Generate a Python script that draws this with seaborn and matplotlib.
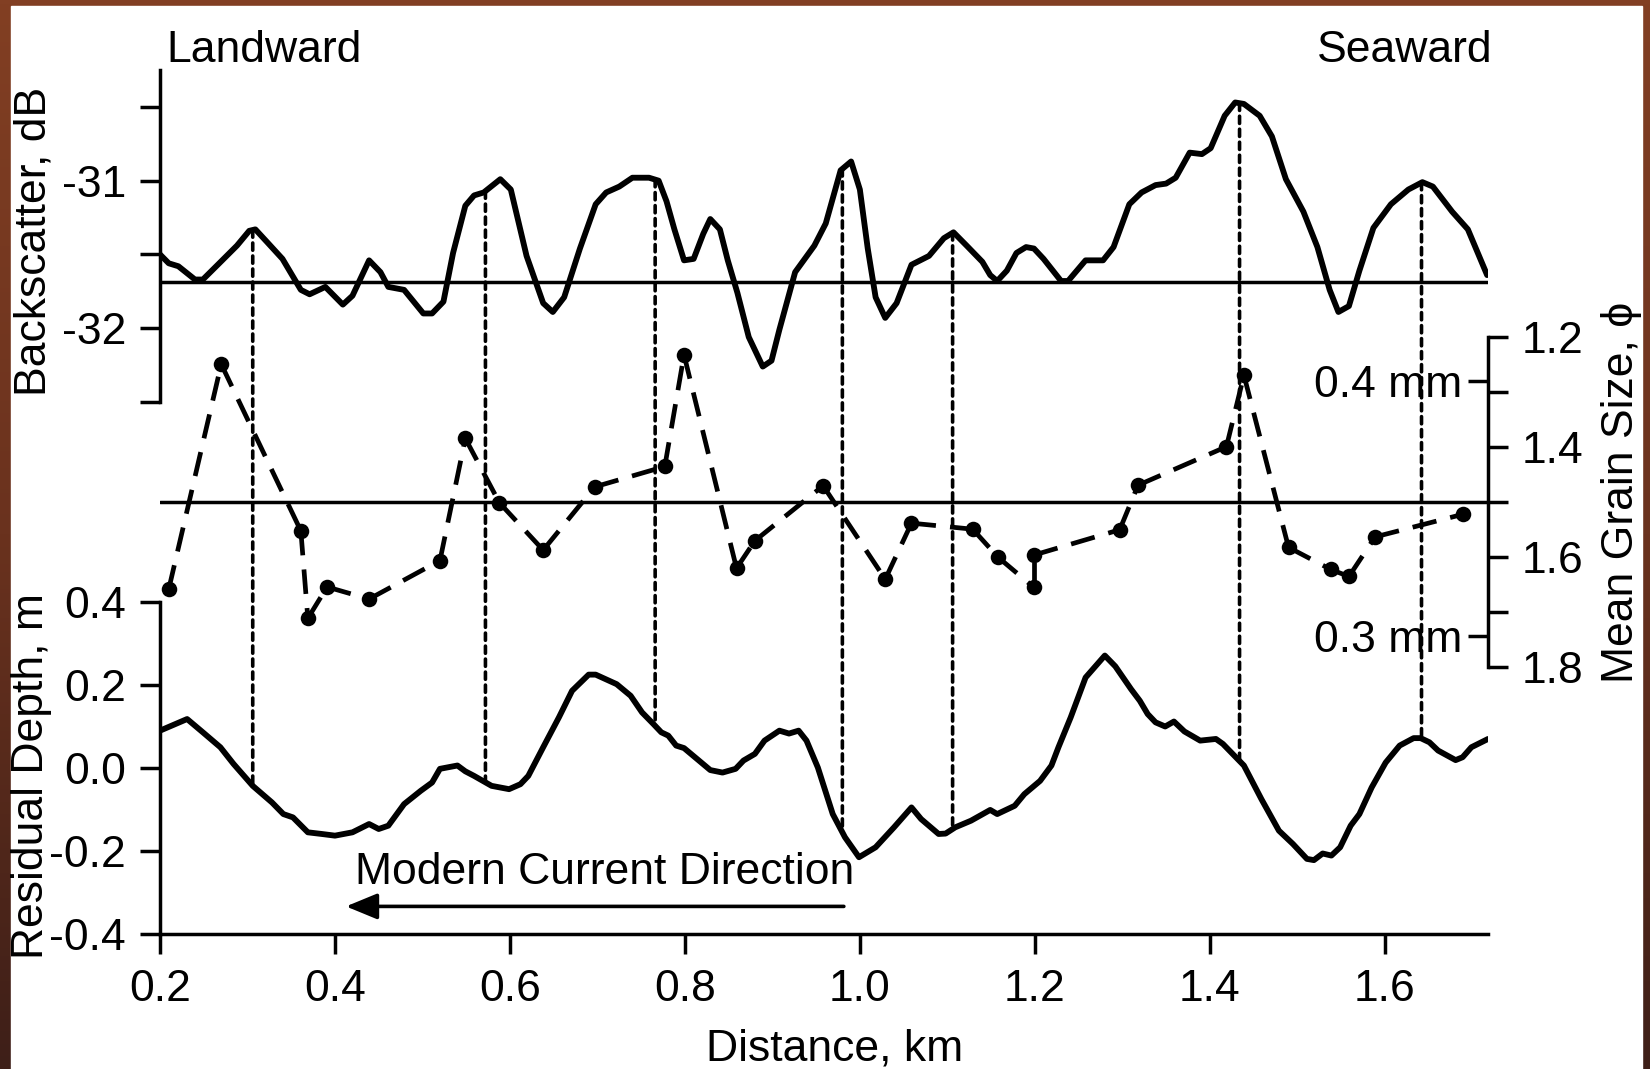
import numpy as np
import pandas as pd
import matplotlib
matplotlib.use("Agg")
import matplotlib.pyplot as plt
import seaborn as sns
from matplotlib.patches import ConnectionPatch, Rectangle
from matplotlib.colors import LinearSegmentedColormap

# ---------------- data ----------------
bs_km = [0.200, 0.210, 0.221, 0.240, 0.249, 0.266, 0.288, 0.302, 0.309, 0.323, 0.340, 0.361, 0.371,
         0.389, 0.409, 0.420, 0.439, 0.452, 0.461, 0.479, 0.501, 0.511, 0.524, 0.535, 0.549, 0.559,
         0.570, 0.589, 0.601, 0.619, 0.638, 0.649, 0.662, 0.680, 0.698, 0.710, 0.725, 0.740, 0.759,
         0.770, 0.779, 0.788, 0.799, 0.810, 0.821, 0.829, 0.840, 0.849, 0.860, 0.873, 0.889, 0.899,
         0.908, 0.926, 0.948, 0.961, 0.978, 0.990, 1.000, 1.009, 1.018, 1.029, 1.042, 1.059, 1.079,
         1.096, 1.107, 1.122, 1.140, 1.149, 1.157, 1.168, 1.179, 1.190, 1.199, 1.210, 1.230, 1.238,
         1.258, 1.278, 1.290, 1.308, 1.322, 1.338, 1.350, 1.361, 1.377, 1.391, 1.401, 1.417, 1.429,
         1.439, 1.457, 1.471, 1.487, 1.507, 1.523, 1.537, 1.547, 1.559, 1.571, 1.587, 1.607, 1.627,
         1.643, 1.655, 1.677, 1.695, 1.717]
bs_db = [-31.50, -31.56, -31.58, -31.67, -31.67, -31.57, -31.44, -31.34, -31.33, -31.42, -31.53, -31.74, -31.77,
         -31.72, -31.84, -31.78, -31.54, -31.62, -31.72, -31.74, -31.90, -31.90, -31.82, -31.49, -31.17, -31.10,
         -31.08, -30.99, -31.06, -31.51, -31.83, -31.89, -31.79, -31.46, -31.16, -31.08, -31.04, -30.98, -30.98,
         -31.00, -31.14, -31.33, -31.54, -31.53, -31.36, -31.26, -31.33, -31.54, -31.76, -32.06, -32.26, -32.22,
         -32.01, -31.62, -31.44, -31.29, -30.93, -30.87, -31.06, -31.46, -31.79, -31.93, -31.83, -31.57, -31.51,
         -31.39, -31.35, -31.44, -31.55, -31.64, -31.68, -31.61, -31.49, -31.45, -31.46, -31.53, -31.68, -31.68,
         -31.54, -31.54, -31.45, -31.16, -31.08, -31.03, -31.02, -30.98, -30.81, -30.82, -30.78, -30.56, -30.47,
         -30.48, -30.56, -30.70, -30.99, -31.21, -31.45, -31.74, -31.89, -31.85, -31.61, -31.32, -31.16, -31.06,
         -31.01, -31.04, -31.21, -31.33, -31.64]
bs_mean = -31.69

depth_km = [0.200, 0.231, 0.249, 0.269, 0.284, 0.306, 0.328, 0.341, 0.352, 0.369, 0.385, 0.400, 0.420,
            0.439, 0.450, 0.461, 0.479, 0.498, 0.511, 0.520, 0.540, 0.549, 0.559, 0.579, 0.599, 0.612,
            0.621, 0.638, 0.656, 0.671, 0.690, 0.698, 0.722, 0.738, 0.751, 0.764, 0.773, 0.781, 0.790,
            0.799, 0.816, 0.829, 0.843, 0.858, 0.867, 0.880, 0.891, 0.908, 0.919, 0.930, 0.939, 0.952,
            0.969, 0.983, 0.999, 1.018, 1.039, 1.059, 1.070, 1.090, 1.098, 1.109, 1.127, 1.149, 1.157,
            1.177, 1.188, 1.206, 1.219, 1.227, 1.241, 1.258, 1.280, 1.292, 1.310, 1.320, 1.329, 1.338,
            1.349, 1.359, 1.371, 1.389, 1.407, 1.415, 1.439, 1.459, 1.479, 1.495, 1.511, 1.519, 1.529,
            1.539, 1.549, 1.561, 1.571, 1.585, 1.601, 1.617, 1.633, 1.641, 1.651, 1.661, 1.681, 1.689,
            1.699, 1.718]
depth_m = [0.090, 0.118, 0.086, 0.050, 0.010, -0.043, -0.083, -0.111, -0.119, -0.155, -0.159, -0.163, -0.155,
           -0.135, -0.147, -0.139, -0.087, -0.055, -0.035, -0.002, 0.006, -0.008, -0.019, -0.043, -0.051, -0.039,
           -0.019, 0.050, 0.122, 0.186, 0.225, 0.225, 0.202, 0.174, 0.134, 0.106, 0.086, 0.078, 0.054,
           0.048, 0.018, -0.005, -0.011, -0.002, 0.018, 0.034, 0.066, 0.090, 0.083, 0.090, 0.066, 0.001,
           -0.111, -0.167, -0.215, -0.191, -0.143, -0.095, -0.123, -0.159, -0.158, -0.143, -0.127, -0.101, -0.111,
           -0.091, -0.063, -0.031, 0.006, 0.050, 0.122, 0.218, 0.271, 0.245, 0.190, 0.162, 0.130, 0.110,
           0.100, 0.112, 0.088, 0.066, 0.070, 0.058, 0.006, -0.075, -0.151, -0.183, -0.219, -0.222, -0.206,
           -0.211, -0.191, -0.139, -0.111, -0.047, 0.013, 0.054, 0.072, 0.072, 0.062, 0.042, 0.019, 0.026,
           0.050, 0.070]

grain_km = [0.210, 0.270, 0.361, 0.369, 0.391, 0.439, 0.520, 0.549, 0.588, 0.638, 0.697, 0.777, 0.799,
            0.859, 0.880, 0.958, 1.029, 1.059, 1.129, 1.158, 1.199, 1.199, 1.297, 1.318, 1.419, 1.439,
            1.490, 1.538, 1.559, 1.589, 1.689]
grain_phi = [1.659, 1.250, 1.553, 1.712, 1.655, 1.677, 1.607, 1.385, 1.502, 1.588, 1.473, 1.436, 1.233,
             1.621, 1.571, 1.471, 1.641, 1.539, 1.550, 1.601, 1.656, 1.597, 1.551, 1.470, 1.400, 1.270,
             1.583, 1.623, 1.636, 1.564, 1.523]
grain_mean = 1.5

peak_km = [0.306, 0.572, 0.766, 0.980, 1.106, 1.434, 1.642]

x_ticks = [0.2, 0.4, 0.6, 0.8, 1.0, 1.2, 1.4, 1.6]
x_ticklabels = ["0.2", "0.4", "0.6", "0.8", "1.0", "1.2", "1.4", "1.6"]
bs_ticks = [-32.5, -32.0, -31.5, -31.0, -30.5]
bs_ticklabels = ["", "-32", "", "-31", ""]
phi_ticks = [1.2, 1.3, 1.4, 1.5, 1.6, 1.7, 1.8]
phi_ticklabels = ["1.2", "", "1.4", "", "1.6", "", "1.8"]
mm_ticks = [1.28, 1.745]
mm_ticklabels = ["0.4 mm", "0.3 mm"]
depth_ticks = [-0.4, -0.2, 0.0, 0.2, 0.4]
depth_ticklabels = ["-0.4", "-0.2", "0.0", "0.2", "0.4"]

# ---------------- style ----------------
sns.set_style("ticks")
plt.rcParams['font.family'] = ['Liberation Sans', 'DejaVu Sans']
plt.rcParams['axes.unicode_minus'] = False
plt.rcParams['text.color'] = 'black'
plt.rcParams['axes.labelcolor'] = 'black'
plt.rcParams['xtick.color'] = 'black'
plt.rcParams['ytick.color'] = 'black'
FS = 32
LW_AX = 2.5
LW_CURVE = 4.2
TICK_LEN = 14.4

W, H = 1650, 1069
fig = plt.figure(figsize=(W / 100, H / 100), dpi=100)


def fx(px):
    return px / W


def fy(py):
    return 1 - py / H


# background frame (brown slide border + white canvas)
bg = fig.add_axes([0, 0, 1, 1], zorder=-10)
grad = np.linspace(0, 1, 256)[:, None]
cmap = LinearSegmentedColormap.from_list('bg', ['#823f23', '#6a321e', '#3e1f18'])
bg.imshow(grad, aspect='auto', cmap=cmap, extent=[0, 1, 0, 1], origin='upper')
bg.add_patch(Rectangle((fx(11), 0), fx(1642) - fx(11), fy(6), color='white'))
bg.set_xlim(0, 1)
bg.set_ylim(0, 1)
bg.axis('off')

X0, X1 = 160, 1488
XLIM = (0.2, 1.718)


def add_ax(top_px, bot_px, left=X0, right=X1):
    a = fig.add_axes([fx(left), fy(bot_px), (right - left) / W, (bot_px - top_px) / H])
    a.set_facecolor('none')
    for s in a.spines.values():
        s.set_visible(False)
        s.set_linewidth(LW_AX)
        s.set_color('black')
    a.tick_params(length=TICK_LEN, width=LW_AX, labelsize=FS, colors='black', pad=10)
    return a


ax_top = add_ax(70, 402)
ax_mid = add_ax(336.7, 666.7)
ax_bot = add_ax(602, 934)
ax_mm = add_ax(336.7, 666.7, left=X1, right=X1 + 30)

# ---- backscatter ----
sns.lineplot(x=bs_km, y=bs_db, ax=ax_top, color='black', lw=LW_CURVE, sort=False, estimator=None)
ax_top.axhline(bs_mean, color='black', lw=LW_AX)
ax_top.set_xlim(*XLIM)
ax_top.set_ylim(-32.5, -30.25)
ax_top.spines['left'].set_visible(True)
ax_top.set_yticks(bs_ticks)
ax_top.set_yticklabels(bs_ticklabels)
ax_top.set_xticks([])
ax_top.set_xlabel('')
ax_top.set_ylabel('')

# ---- grain size ----
seg_rows = []
for i in range(len(grain_km) - 1):
    seg_rows.append({'seg': i, 'km': grain_km[i], 'phi': grain_phi[i]})
    seg_rows.append({'seg': i, 'km': grain_km[i + 1], 'phi': grain_phi[i + 1]})
seg_df = pd.DataFrame(seg_rows)
sns.lineplot(data=seg_df, x='km', y='phi', units='seg', estimator=None, sort=False,
             color='black', lw=3.4, linestyle=(0, (5.2, 3.0)), ax=ax_mid)
sns.scatterplot(x=grain_km, y=grain_phi, ax=ax_mid, color='black', s=125, linewidth=0,
                zorder=4, clip_on=False)
ax_mid.axhline(grain_mean, color='black', lw=LW_AX)
ax_mid.set_xlim(*XLIM)
ax_mid.set_ylim(1.8, 1.2)
ax_mid.spines['right'].set_visible(True)
ax_mid.yaxis.tick_right()
ax_mid.set_yticks(phi_ticks)
ax_mid.set_yticklabels(phi_ticklabels)
ax_mid.tick_params(axis='y', right=True, left=False, labelright=True, labelleft=False)
ax_mid.set_xticks([])
ax_mid.set_xlabel('')
ax_mid.set_ylabel('')

ax_mm.set_ylim(1.8, 1.2)
ax_mm.set_xticks([])
ax_mm.set_yticks(mm_ticks)
ax_mm.set_yticklabels(mm_ticklabels)
ax_mm.tick_params(axis='y', left=True, right=False, labelleft=True, pad=4)

# ---- residual depth ----
sns.lineplot(x=depth_km, y=depth_m, ax=ax_bot, color='black', lw=LW_CURVE, sort=False, estimator=None)
ax_bot.set_xlim(*XLIM)
ax_bot.set_ylim(-0.4, 0.4)
ax_bot.spines['left'].set_visible(True)
ax_bot.spines['bottom'].set_visible(True)
ax_bot.set_yticks(depth_ticks)
ax_bot.set_yticklabels(depth_ticklabels)
ax_bot.set_xticks(x_ticks)
ax_bot.set_xticklabels(x_ticklabels)
ax_bot.tick_params(axis='x', pad=11)
ax_bot.set_xlabel('')
ax_bot.set_ylabel('')

ax_bot.text(0.4229, -0.279, "Modern Current Direction", fontsize=FS, ha='left', va='baseline')
ax_bot.annotate("", xy=(0.4126, -0.3335), xytext=(0.9817, -0.3335),
                arrowprops=dict(arrowstyle='-|>,head_length=0.8,head_width=0.33', mutation_scale=24,
                                lw=2.6, color='black', shrinkA=0, shrinkB=0))

# ---- dotted connectors from backscatter peaks to residual depth ----
for xp in peak_km:
    yt = np.interp(xp, bs_km, bs_db)
    yb = np.interp(xp, depth_km, depth_m)
    con = ConnectionPatch(xyA=(xp, yt), coordsA=ax_top.transData,
                          xyB=(xp, yb), coordsB=ax_bot.transData,
                          color='black', lw=2.6, linestyle=(0, (2.0, 1.6)), zorder=1)
    fig.add_artist(con)

# ---- texts ----
fig.text(fx(166), fy(61.7), "Landward", fontsize=FS, ha='left', va='baseline')
fig.text(fx(1493), fy(61.7), "Seaward", fontsize=FS, ha='right', va='baseline')
fig.text(fx(34), fy(241), "Backscatter, dB", fontsize=FS, rotation=90, ha='center', va='center')
fig.text(fx(32), fy(776), "Residual Depth, m", fontsize=FS, rotation=90, ha='center', va='center')
fig.text(fx(1622), fy(492), "Mean Grain Size, \u03d5", fontsize=FS, rotation=90, ha='center', va='center')
fig.text(fx(835), fy(1060), "Distance, km", fontsize=FS, ha='center', va='baseline')

fig.savefig("out.png", dpi=100)
